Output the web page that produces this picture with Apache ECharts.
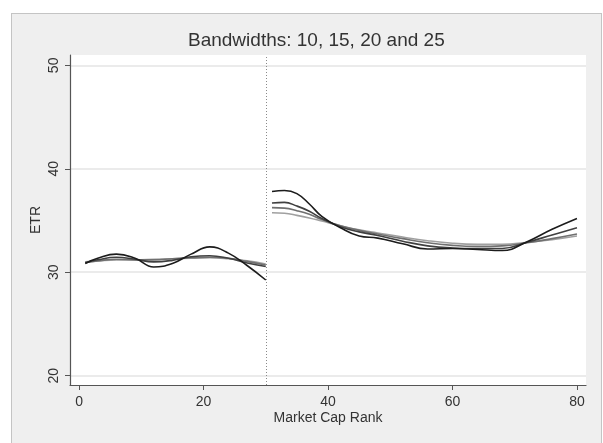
<!DOCTYPE html>
<html><head><meta charset="utf-8">
<script src="https://cdn.jsdelivr.net/npm/echarts@6/dist/echarts.min.js"></script>
<style>
html,body{margin:0;padding:0;background:#fff;}
#wrap{position:relative;width:603px;height:443px;overflow:hidden;}
#frame{position:absolute;left:11px;top:13px;width:591px;height:450px;background:#efefef;border:1px solid #c4c4c4;box-sizing:border-box;}
#chart{position:absolute;left:0;top:0;width:603px;height:443px;}
</style></head><body>
<div id="wrap"><div id="frame"></div><div id="chart"></div></div>
<script>
// Data
const titleText = 'Bandwidths: 10, 15, 20 and 25';
const xName = 'Market Cap Rank';
const yName = 'ETR';
const xTicks = [0, 20, 40, 60, 80];
const yTicks = [20, 30, 40, 50];
const cutoff = 30;
const leftX  = [1, 3, 6, 9, 12, 15, 18, 21, 24, 27, 30];
const rightX = [31, 33, 35, 37, 39, 42, 45, 48, 52, 56, 60, 64, 68, 72, 76, 80];

const bw10Left  = [30.85, 31.35, 31.75, 31.35, 30.5, 30.85, 31.75, 32.45, 31.85, 30.65, 29.25];
const bw15Left  = [30.9, 31.2, 31.45, 31.25, 31.0, 31.15, 31.5, 31.6, 31.35, 30.9, 30.55];
const bw20Left  = [30.95, 31.1, 31.25, 31.2, 31.2, 31.3, 31.4, 31.45, 31.35, 31.05, 30.7];
const bw25Left  = [31.0, 31.1, 31.2, 31.2, 31.25, 31.3, 31.35, 31.4, 31.3, 31.1, 30.8];

const bw10Right = [37.8, 37.9, 37.6, 36.6, 35.4, 34.3, 33.5, 33.3, 32.75, 32.25, 32.3, 32.2, 32.1, 32.95, 34.15, 35.2];
const bw15Right = [36.7, 36.75, 36.4, 35.9, 35.2, 34.4, 33.9, 33.55, 33.0, 32.55, 32.35, 32.3, 32.3, 32.9, 33.6, 34.3];
const bw20Right = [36.25, 36.2, 35.95, 35.6, 35.1, 34.5, 34.05, 33.7, 33.25, 32.85, 32.6, 32.5, 32.55, 32.85, 33.25, 33.7];
const bw25Right = [35.75, 35.7, 35.5, 35.25, 34.95, 34.5, 34.1, 33.8, 33.4, 33.05, 32.8, 32.7, 32.7, 32.9, 33.15, 33.5];

const bands = [
  {name: 'bw25', left: bw25Left, right: bw25Right, color: '#a0a0a0'},
  {name: 'bw20', left: bw20Left, right: bw20Right, color: '#707070'},
  {name: 'bw15', left: bw15Left, right: bw15Right, color: '#404040'},
  {name: 'bw10', left: bw10Left, right: bw10Right, color: '#1c1c1c'}
];

const series = [];
bands.forEach(b => {
  [[leftX, b.left], [rightX, b.right]].forEach(([xs, ys]) => {
    series.push({
      type: 'line', name: b.name, smooth: 0.45, showSymbol: false, symbol: 'none',
      data: xs.map((x, i) => [x, ys[i]]),
      lineStyle: {color: b.color, width: 1.6},
      z: 3
    });
  });
});
series.push({
  type: 'line', data: [], silent: true,
  markLine: {
    symbol: ['none', 'none'], silent: true, label: {show: false},
    lineStyle: {color: '#8a8a8a', type: [1, 2], width: 1},
    data: [{xAxis: cutoff}]
  }
});

const chart = echarts.init(document.getElementById('chart'), null, {renderer: 'canvas'});
chart.setOption({
  backgroundColor: 'transparent',
  animation: false,
  title: {
    text: titleText, left: 183, top: 26,
    textStyle: {fontFamily: 'Liberation Sans, Arial, sans-serif', fontSize: 19, fontWeight: 'normal', color: '#333'}
  },
  grid: {left: 70, right: 17, top: 55, bottom: 58, show: true, backgroundColor: '#fff', borderWidth: 0},
  xAxis: {
    type: 'value', min: -1.45, max: 81.45,
    name: xName, nameLocation: 'middle', nameGap: 26, nameMoveOverlap: false,
    nameTextStyle: {fontFamily: 'Liberation Sans, Arial, sans-serif', fontSize: 14, color: '#333'},
    axisLine: {show: true, onZero: false, lineStyle: {color: '#555', width: 1.2}},
    axisTick: {show: true, length: 5, customValues: xTicks, lineStyle: {color: '#555'}},
    axisLabel: {customValues: xTicks, fontFamily: 'Liberation Sans, Arial, sans-serif', fontSize: 14, color: '#333', margin: 10},
    splitLine: {show: false}
  },
  yAxis: {
    type: 'value', min: 19.1, max: 51,
    name: yName, nameLocation: 'middle', nameGap: 27, nameRotate: 90, nameMoveOverlap: false,
    nameTextStyle: {fontFamily: 'Liberation Sans, Arial, sans-serif', fontSize: 14, color: '#333'},
    axisLine: {show: true, onZero: false, lineStyle: {color: '#555', width: 1.2}},
    axisTick: {show: true, length: 5, customValues: yTicks, lineStyle: {color: '#555'}},
    axisLabel: {customValues: yTicks, rotate: 90, fontFamily: 'Liberation Sans, Arial, sans-serif', fontSize: 14, color: '#333', margin: 9},
    splitLine: {show: true, lineStyle: {color: '#e4e4e4', width: 1.5}}
  },
  series: series
});
</script>
</body></html>
